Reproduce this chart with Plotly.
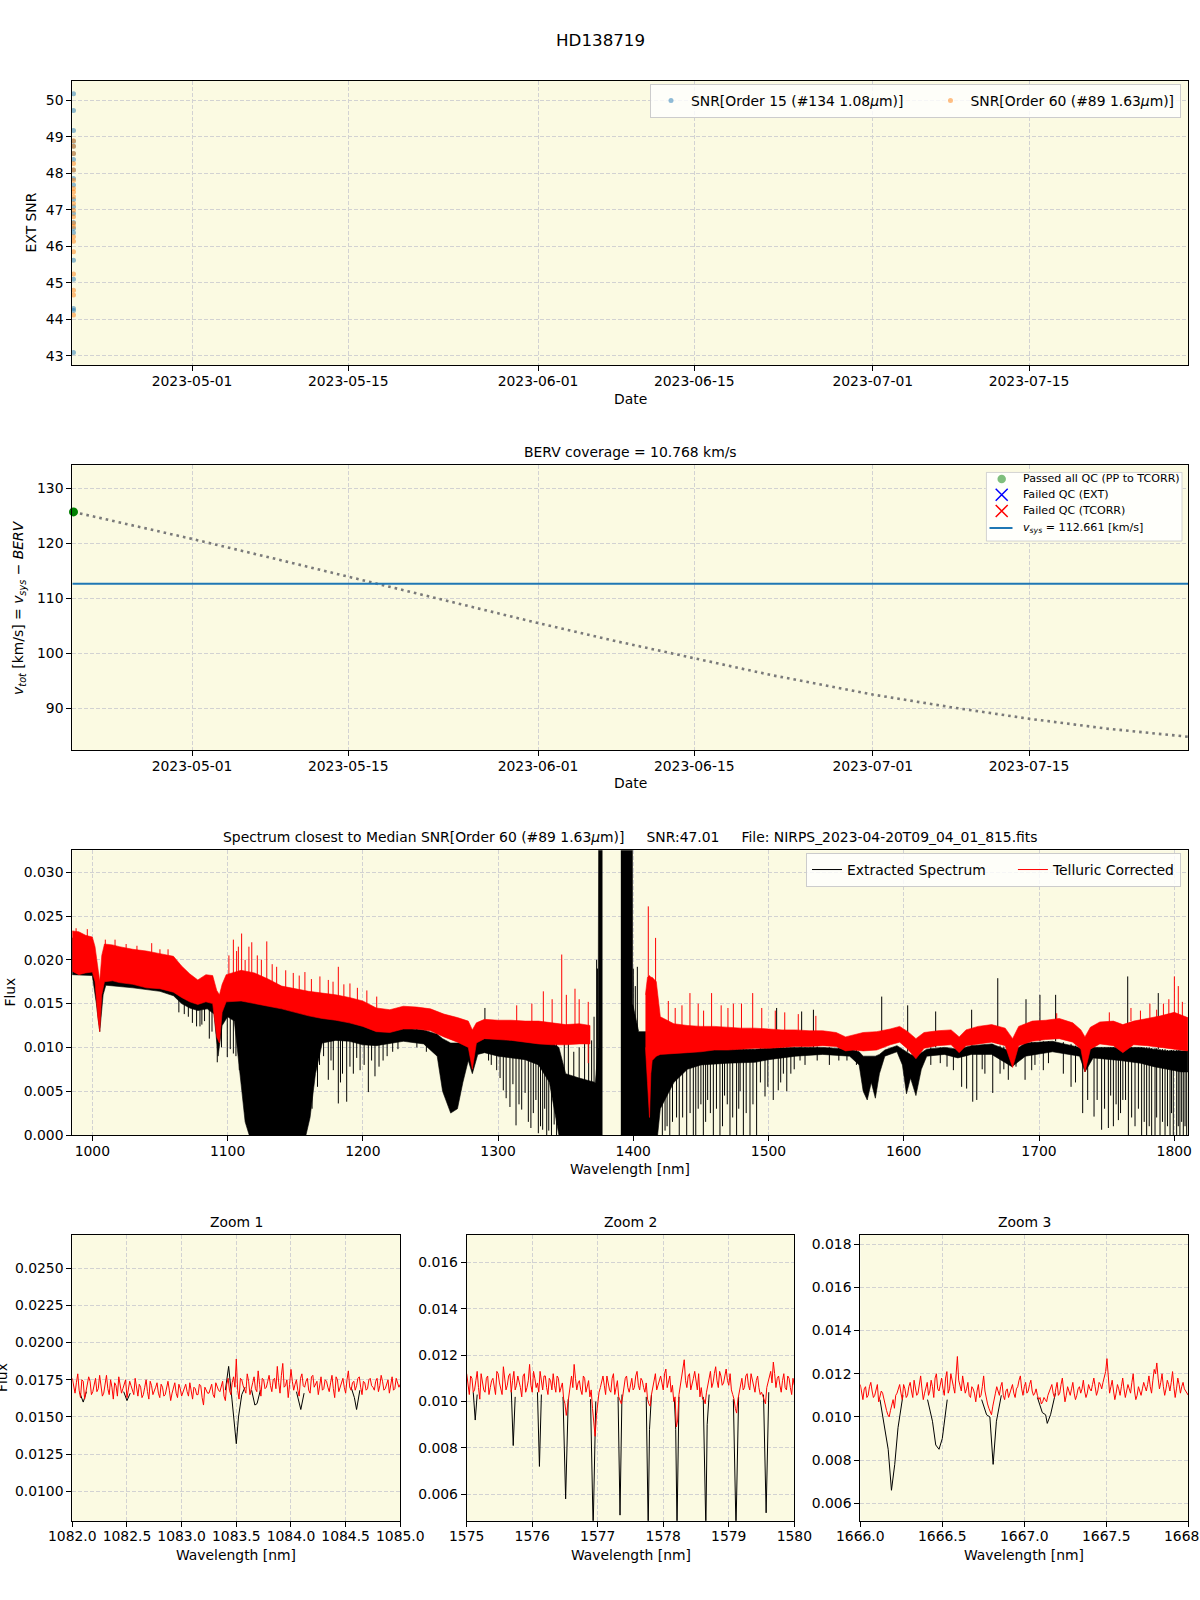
import plotly.graph_objects as go

W, H = 1200, 1600
FONT = "DejaVu Sans"
BG = "#FBFAE2"
GRID = "#d2d2d2"

# ---------------- Panel 1 : SNR ----------------
snr_o15 = [50.18, 49.72, 49.17, 48.88, 48.74, 48.54, 48.38, 48.09, 47.86, 47.68, 47.28,
           47.08, 46.90, 46.65, 46.49, 46.37, 45.62, 45.10, 44.30, 44.24, 43.09]
snr_o60 = [48.89, 48.74, 48.54, 48.27, 48.09, 47.81, 47.58, 47.49, 47.36, 47.17, 46.99,
           46.81, 46.63, 46.54, 46.26, 46.14, 45.85, 45.24, 44.80, 44.67, 44.12]
obs_date = "2023-04-20 09:04:01"
date_range = ["2023-04-20 06:30", "2023-07-29 06:30"]
date_ticks = ["2023-05-01", "2023-05-15", "2023-06-01", "2023-06-15", "2023-07-01", "2023-07-15"]

# ---------------- Panel 2 : BERV ----------------
berv_dates = ["2023-04-20 09:04", "2023-05-01", "2023-05-08", "2023-05-15", "2023-05-22",
              "2023-06-01", "2023-06-08", "2023-06-15", "2023-06-22", "2023-07-01",
              "2023-07-08", "2023-07-15", "2023-07-22", "2023-07-29 09:04"]
berv_vtot = [125.7, 120.8, 117.4, 113.9, 110.4, 105.5, 102.2, 99.1, 96.0, 92.5,
             90.2, 88.1, 86.3, 84.8]
passed_vtot = [125.7]
vsys = 112.661
berv_legend = ["Passed all QC (PP to TCORR)", "Failed QC (EXT)", "Failed QC (TCORR)",
               "<i>v<sub>sys</sub></i> = 112.661 [km/s]"]

# ---------------- Panel 3 : spectrum (envelopes) ----------------
# (wavelength, upper, lower) ; None row = gap
tc_band = [
    (985, 0.0233, 0.0187), (990, 0.0232, 0.0183), (995, 0.0228, 0.0185), (1000, 0.0226, 0.0186),
    (1002, 0.0215, 0.0175), (1004, 0.0195, 0.0135), (1005.5, 0.0175, 0.0118), (1007, 0.0205, 0.0160),
    (1009, 0.0218, 0.0175), (1015, 0.0217, 0.0176), (1020, 0.0215, 0.0174), (1030, 0.0212, 0.0172),
    (1040, 0.0210, 0.0168), (1050, 0.0207, 0.0167), (1060, 0.0204, 0.0163), (1066, 0.0193, 0.0157),
    (1072, 0.0184, 0.0152), (1078, 0.0177, 0.0149), (1084, 0.0183, 0.0152), (1089, 0.0182, 0.0150),
    (1092, 0.0165, 0.0112), (1094, 0.0160, 0.0105), (1096, 0.0172, 0.0140), (1099, 0.0183, 0.0152),
    (1110, 0.0188, 0.0153), (1120, 0.0185, 0.0150), (1130, 0.0178, 0.0147), (1140, 0.0170, 0.0144),
    (1150, 0.0167, 0.0140), (1160, 0.0164, 0.0136), (1170, 0.0162, 0.0133), (1180, 0.0160, 0.0131),
    (1190, 0.0157, 0.0128), (1200, 0.0153, 0.0124), (1210, 0.0145, 0.0118), (1220, 0.0143, 0.0117),
    (1230, 0.0147, 0.0121), (1240, 0.0146, 0.0121), (1250, 0.0144, 0.0119), (1260, 0.0138, 0.0112),
    (1270, 0.0134, 0.0106), (1278, 0.0130, 0.0100), (1281, 0.0120, 0.0075), (1284, 0.0128, 0.0105),
    (1290, 0.0132, 0.0110), (1300, 0.0131, 0.0109), (1310, 0.0131, 0.0108), (1320, 0.0130, 0.0106),
    (1330, 0.0130, 0.0104), (1340, 0.0128, 0.0103), (1350, 0.0126, 0.0103), (1360, 0.0127, 0.0104),
    (1368, 0.0125, 0.0104),
    None,
    (1409, 0.0160, 0.0100), (1410.5, 0.0180, 0.0060), (1412, 0.0182, 0.0020), (1413, 0.0180, 0.0070),
    (1414, 0.0180, 0.0085), (1417, 0.0175, 0.0090), (1420, 0.0135, 0.0092), (1430, 0.0127, 0.0093),
    (1440, 0.0125, 0.0094), (1450, 0.0124, 0.0095), (1460, 0.0124, 0.0097), (1470, 0.0123, 0.0097),
    (1480, 0.0122, 0.0098), (1490, 0.0122, 0.0099), (1500, 0.0121, 0.0099), (1510, 0.0120, 0.0100),
    (1520, 0.0120, 0.0101), (1530, 0.0119, 0.0101), (1540, 0.0119, 0.0102), (1550, 0.0117, 0.0101),
    (1557, 0.0112, 0.0096), (1563, 0.0114, 0.0097), (1570, 0.0117, 0.0096), (1580, 0.0118, 0.0097),
    (1590, 0.0121, 0.0103), (1597, 0.0124, 0.0106), (1603, 0.0118, 0.0098), (1609, 0.0110, 0.0087),
    (1615, 0.0117, 0.0099), (1625, 0.0119, 0.0102), (1635, 0.0120, 0.0103), (1641, 0.0112, 0.0094),
    (1646, 0.0120, 0.0102), (1655, 0.0124, 0.0104), (1665, 0.0126, 0.0106), (1675, 0.0122, 0.0102),
    (1680.5, 0.0110, 0.0077), (1685, 0.0124, 0.0102), (1695, 0.0130, 0.0107), (1705, 0.0131, 0.0109),
    (1715, 0.0133, 0.0110), (1725, 0.0128, 0.0106), (1731, 0.0120, 0.0098), (1734, 0.0112, 0.0072),
    (1738, 0.0123, 0.0098), (1745, 0.0129, 0.0104), (1755, 0.0130, 0.0102), (1762, 0.0126, 0.0094),
    (1770, 0.0130, 0.0103), (1780, 0.0133, 0.0102), (1790, 0.0136, 0.0100), (1800, 0.0140, 0.0098),
    (1810, 0.0134, 0.0096),
]

ext_band = [
    (985, 0.0225, 0.0183), (1000, 0.0222, 0.0182), (1003, 0.0195, 0.0150), (1005.5, 0.0170, 0.0118),
    (1008, 0.0200, 0.0160), (1010, 0.0212, 0.0171), (1030, 0.0208, 0.0168), (1050, 0.0203, 0.0164),
    (1060, 0.0198, 0.0159), (1066, 0.0188, 0.0150), (1072, 0.0178, 0.0145), (1078, 0.0172, 0.0142),
    (1085, 0.0175, 0.0144), (1090, 0.0170, 0.0138), (1093, 0.0150, 0.0090), (1096, 0.0160, 0.0125),
    (1100, 0.0170, 0.0135), (1105, 0.0165, 0.0130), (1110, 0.0160, 0.0060), (1113, 0.0158, 0.0015),
    (1116, 0.0155, 0.0), (1130, 0.0150, 0.0), (1145, 0.0143, 0.0), (1158, 0.0140, 0.0),
    (1161, 0.0138, 0.0020), (1165, 0.0135, 0.0070), (1170, 0.0135, 0.0105), (1180, 0.0133, 0.0108),
    (1190, 0.0130, 0.0107), (1200, 0.0125, 0.0103), (1210, 0.0120, 0.0102), (1230, 0.0122, 0.0107),
    (1245, 0.0120, 0.0104), (1255, 0.0115, 0.0090), (1259, 0.0110, 0.0050), (1265, 0.0105, 0.0025),
    (1270, 0.0105, 0.0030), (1274, 0.0105, 0.0060), (1278, 0.0108, 0.0085), (1281, 0.0100, 0.0070),
    (1285, 0.0108, 0.0092), (1290, 0.0110, 0.0094), (1300, 0.0110, 0.0090), (1310, 0.0110, 0.0088),
    (1320, 0.0108, 0.0086), (1330, 0.0107, 0.0080), (1338, 0.0107, 0.0060), (1345, 0.0100, 0.0),
    (1350, 0.0070, 0.0), (1360, 0.0065, 0.0), (1372, 0.0060, 0.0), (1374, 0.0100, 0.0),
    (1374.5, 0.0400, 0.0), (1377, 0.0400, 0.0),
    None,
    (1390.8, 0.0400, 0.0), (1399.3, 0.0400, 0.0), (1399.5, 0.0150, 0.0), (1404, 0.0118, 0.0),
    (1410, 0.0118, 0.0), (1418, 0.0110, 0.0), (1420, 0.0095, 0.0030), (1430, 0.0095, 0.0060),
    (1440, 0.0096, 0.0075), (1450, 0.0097, 0.0080), (1470, 0.0098, 0.0082), (1490, 0.0098, 0.0083),
    (1500, 0.0099, 0.0086), (1520, 0.0100, 0.0090), (1540, 0.0100, 0.0092), (1560, 0.0098, 0.0090),
    (1567, 0.0095, 0.0080), (1570, 0.0090, 0.0050), (1573, 0.0090, 0.0040), (1576, 0.0090, 0.0060),
    (1579, 0.0090, 0.0042), (1582, 0.0092, 0.0070), (1586, 0.0097, 0.0090), (1595, 0.0102, 0.0095),
    (1599, 0.0098, 0.0080), (1602, 0.0095, 0.0047), (1605, 0.0092, 0.0065), (1609, 0.0090, 0.0045),
    (1613, 0.0094, 0.0075), (1617, 0.0098, 0.0090), (1630, 0.0100, 0.0092), (1640, 0.0098, 0.0088),
    (1650, 0.0102, 0.0092), (1665, 0.0104, 0.0092), (1680, 0.0095, 0.0078), (1690, 0.0105, 0.0090),
    (1710, 0.0107, 0.0095), (1730, 0.0100, 0.0090), (1734, 0.0095, 0.0072), (1740, 0.0100, 0.0088),
    (1760, 0.0100, 0.0085), (1775, 0.0100, 0.0082), (1785, 0.0098, 0.0078), (1795, 0.0096, 0.0075),
    (1805, 0.0096, 0.0072), (1810, 0.0096, 0.0072),
]

# individual lines / spikes : (wavelength, top, bottom)
ext_spikes = [
    (1064.0, 0.0175, 0.0140), (1068.0, 0.0172, 0.0138), (1071.0, 0.0170, 0.0135), (1074.0, 0.0170, 0.0128),
    (1077.1, 0.0170, 0.0124), (1079.6, 0.0170, 0.0124), (1081.0, 0.0172, 0.0126), (1083.0, 0.0172, 0.0130),
    (1086.5, 0.0172, 0.0110), (1088.5, 0.0170, 0.0118), (1092.4, 0.0160, 0.0083), (1095.5, 0.0160, 0.0100),
    (1099.8, 0.0165, 0.0089), (1102.0, 0.0165, 0.0098), (1104.3, 0.0165, 0.0093), (1106.2, 0.0163, 0.0090),
    (1108.7, 0.0160, 0.0074),
    (1162.5, 0.0135, 0.0030), (1166.5, 0.0135, 0.0055), (1168.0, 0.0134, 0.0080), (1171.0, 0.0134, 0.0090),
    (1174.5, 0.0133, 0.0063), (1176.5, 0.0133, 0.0085), (1178.2, 0.0133, 0.0074), (1181.9, 0.0133, 0.0036),
    (1183.5, 0.0132, 0.0060), (1185.0, 0.0130, 0.0070), (1188.1, 0.0130, 0.0038), (1190.5, 0.0129, 0.0078),
    (1193.0, 0.0128, 0.0070), (1195.5, 0.0127, 0.0088), (1198.0, 0.0126, 0.0074), (1201.0, 0.0124, 0.0080),
    (1204.1, 0.0122, 0.0049), (1206.5, 0.0121, 0.0085), (1209.0, 0.0120, 0.0067), (1212.0, 0.0120, 0.0078),
    (1215.0, 0.0120, 0.0085), (1218.0, 0.0120, 0.0090), (1222.1, 0.0120, 0.0095), (1226.0, 0.0121, 0.0098),
    (1232.4, 0.0122, 0.0108), (1240.0, 0.0121, 0.0100), (1247.0, 0.0119, 0.0095), (1254.6, 0.0116, 0.0097),
    (1290.3, 0.0145, 0.0110), (1293.0, 0.0110, 0.0085), (1295.0, 0.0110, 0.0080), (1299.0, 0.0110, 0.0074),
    (1301.5, 0.0110, 0.0065), (1303.9, 0.0110, 0.0051), (1306.0, 0.0110, 0.0042), (1308.8, 0.0110, 0.0032),
    (1311.0, 0.0110, 0.0058), (1313.3, 0.0110, 0.0011), (1315.5, 0.0110, 0.0035), (1317.5, 0.0110, 0.0029),
    (1320.0, 0.0109, 0.0048), (1322.4, 0.0108, 0.0015), (1324.3, 0.0108, 0.0008), (1326.1, 0.0108, 0.0025),
    (1328.0, 0.0108, 0.0040), (1329.8, 0.0107, 0.0002), (1331.4, 0.0107, 0.0010), (1333.0, 0.0107, 0.0006),
    (1334.5, 0.0107, 0.0030), (1336.0, 0.0107, 0.0), (1337.5, 0.0107, 0.0005), (1339.5, 0.0106, 0.0),
    (1341.5, 0.0106, 0.0012), (1343.3, 0.0105, 0.0),
    (1349.0, 0.0105, 0.0060), (1352.0, 0.0110, 0.0060), (1356.0, 0.0095, 0.0060), (1360.0, 0.0100, 0.0060),
    (1364.0, 0.0110, 0.0060), (1367.0, 0.0105, 0.0060), (1369.2, 0.0108, 0.0060), (1371.0, 0.0135, 0.0060),
    (1372.9, 0.0200, 0.0060), (1373.6, 0.0190, 0.0060),
    (1400.0, 0.0190, 0.0100), (1401.5, 0.0170, 0.0100), (1403.0, 0.0192, 0.0100),
    (1421.5, 0.0095, 0.0), (1423.5, 0.0095, 0.0005), (1425.0, 0.0095, 0.0010), (1427.0, 0.0095, 0.0),
    (1429.0, 0.0095, 0.0015), (1432.0, 0.0095, 0.0020), (1434.0, 0.0095, 0.0), (1436.5, 0.0096, 0.0020),
    (1439.5, 0.0096, 0.0), (1442.0, 0.0096, 0.0025), (1444.4, 0.0096, 0.0), (1446.2, 0.0096, 0.0),
    (1448.0, 0.0096, 0.0030), (1450.0, 0.0097, 0.0035), (1451.8, 0.0097, 0.0), (1453.5, 0.0097, 0.0015),
    (1455.0, 0.0097, 0.0040), (1457.0, 0.0097, 0.0025), (1459.2, 0.0097, 0.0), (1461.5, 0.0097, 0.0030),
    (1464.1, 0.0097, 0.0), (1466.0, 0.0098, 0.0010), (1467.5, 0.0098, 0.0045), (1469.5, 0.0098, 0.0035),
    (1471.5, 0.0098, 0.0), (1473.5, 0.0098, 0.0020), (1476.4, 0.0098, 0.0), (1478.0, 0.0098, 0.0030),
    (1479.0, 0.0098, 0.0050), (1481.4, 0.0098, 0.0), (1483.5, 0.0098, 0.0025), (1486.3, 0.0098, 0.0),
    (1488.5, 0.0098, 0.0035), (1491.2, 0.0098, 0.0), (1494.0, 0.0099, 0.0060), (1497.4, 0.0099, 0.0044),
    (1499.5, 0.0099, 0.0055), (1503.5, 0.0100, 0.0040), (1506.0, 0.0145, 0.0100), (1507.2, 0.0100, 0.0051),
    (1509.0, 0.0100, 0.0060), (1511.0, 0.0100, 0.0070), (1513.5, 0.0100, 0.0050), (1516.5, 0.0100, 0.0070),
    (1519.0, 0.0100, 0.0075), (1523.3, 0.0100, 0.0085), (1524.5, 0.0141, 0.0100), (1527.0, 0.0100, 0.0080),
    (1530.7, 0.0100, 0.0093), (1533.2, 0.0143, 0.0100), (1536.0, 0.0101, 0.0085), (1545.0, 0.0100, 0.0080),
    (1552.0, 0.0100, 0.0085), (1558.0, 0.0098, 0.0085), (1565.0, 0.0097, 0.0080),
    (1583.7, 0.0158, 0.0100), (1602.9, 0.0148, 0.0095), (1620.0, 0.0100, 0.0080), (1623.6, 0.0141, 0.0100),
    (1627.0, 0.0100, 0.0082), (1632.0, 0.0100, 0.0078), (1636.7, 0.0098, 0.0074), (1642.8, 0.0095, 0.0055),
    (1646.5, 0.0100, 0.0053), (1650.2, 0.0143, 0.0102), (1651.0, 0.0102, 0.0038), (1654.0, 0.0102, 0.0040),
    (1658.0, 0.0102, 0.0075), (1660.0, 0.0103, 0.0070), (1665.8, 0.0104, 0.0048), (1669.5, 0.0179, 0.0104),
    (1671.2, 0.0102, 0.0070), (1674.0, 0.0101, 0.0075), (1677.3, 0.0100, 0.0063), (1683.0, 0.0100, 0.0078),
    (1689.7, 0.0105, 0.0063), (1690.4, 0.0155, 0.0105), (1694.6, 0.0106, 0.0074), (1697.0, 0.0106, 0.0080),
    (1700.7, 0.0160, 0.0107), (1703.2, 0.0107, 0.0074), (1707.0, 0.0107, 0.0082), (1712.3, 0.0160, 0.0107),
    (1718.0, 0.0106, 0.0070), (1723.7, 0.0104, 0.0055), (1727.0, 0.0102, 0.0060), (1732.3, 0.0100, 0.0025),
    (1736.0, 0.0098, 0.0040), (1740.7, 0.0100, 0.0021), (1743.0, 0.0100, 0.0040), (1746.3, 0.0100, 0.0006),
    (1748.5, 0.0100, 0.0030), (1751.3, 0.0100, 0.0008), (1753.0, 0.0100, 0.0045), (1755.0, 0.0100, 0.0010),
    (1757.0, 0.0100, 0.0035), (1758.7, 0.0099, 0.0017), (1760.3, 0.0099, 0.0025), (1762.0, 0.0095, 0.0040),
    (1764.0, 0.0099, 0.0040), (1765.6, 0.0181, 0.0100), (1766.1, 0.0100, 0.0), (1768.5, 0.0100, 0.0020),
    (1771.0, 0.0100, 0.0010), (1773.5, 0.0100, 0.0030), (1775.9, 0.0100, 0.0), (1777.8, 0.0100, 0.0015),
    (1779.6, 0.0100, 0.0), (1781.5, 0.0100, 0.0010), (1783.3, 0.0099, 0.0), (1785.8, 0.0099, 0.0),
    (1787.0, 0.0099, 0.0020), (1788.2, 0.0162, 0.0098), (1789.5, 0.0098, 0.0), (1791.3, 0.0098, 0.0015),
    (1793.2, 0.0098, 0.0), (1795.0, 0.0097, 0.0010), (1796.9, 0.0097, 0.0), (1798.0, 0.0097, 0.0025),
    (1799.3, 0.0097, 0.0), (1801.8, 0.0097, 0.0), (1803.0, 0.0097, 0.0010), (1804.2, 0.0097, 0.0),
    (1805.5, 0.0096, 0.0015), (1806.7, 0.0096, 0.0), (1808.0, 0.0096, 0.0010), (1809.2, 0.0096, 0.0),
]

tc_spikes = [
    (988.0, 0.0236, 0.0228), (996.3, 0.0235, 0.0225), (1009.6, 0.0223, 0.0210), (1016.8, 0.0223, 0.0210),
    (1025.0, 0.0218, 0.0210), (1033.0, 0.0216, 0.0208), (1043.9, 0.0219, 0.0205), (1050.0, 0.0212, 0.0200),
    (1056.0, 0.0212, 0.0202),
    (1101.0, 0.0205, 0.0180), (1104.3, 0.0223, 0.0180), (1106.7, 0.0210, 0.0180), (1108.0, 0.0215, 0.0180),
    (1110.4, 0.0230, 0.0180), (1113.0, 0.0200, 0.0180), (1115.8, 0.0215, 0.0180), (1117.9, 0.0220, 0.0180),
    (1122.0, 0.0205, 0.0180), (1125.0, 0.0200, 0.0178), (1129.0, 0.0221, 0.0175), (1133.0, 0.0195, 0.0172),
    (1136.3, 0.0192, 0.0168), (1143.0, 0.0188, 0.0166), (1148.6, 0.0185, 0.0165), (1153.0, 0.0182, 0.0163),
    (1157.2, 0.0186, 0.0162), (1162.0, 0.0178, 0.0160), (1168.3, 0.0181, 0.0160), (1174.5, 0.0177, 0.0158),
    (1178.0, 0.0175, 0.0158), (1181.9, 0.0192, 0.0158), (1186.0, 0.0172, 0.0155), (1190.5, 0.0173, 0.0155),
    (1196.0, 0.0168, 0.0150), (1203.0, 0.0165, 0.0148), (1210.3, 0.0158, 0.0143),
    (1313.8, 0.0148, 0.0128), (1325.0, 0.0150, 0.0128), (1333.5, 0.0164, 0.0128), (1340.0, 0.0155, 0.0126),
    (1347.1, 0.0206, 0.0126), (1350.5, 0.0160, 0.0124), (1356.9, 0.0167, 0.0124), (1360.0, 0.0155, 0.0124),
    (1366.7, 0.0152, 0.0082), (1411.1, 0.0261, 0.0180), (1416.5, 0.0225, 0.0170), (1425.9, 0.0153, 0.0125),
    (1431.0, 0.0145, 0.0125), (1436.0, 0.0148, 0.0124), (1441.9, 0.0162, 0.0124), (1448.0, 0.0150, 0.0123),
    (1452.0, 0.0142, 0.0123), (1457.9, 0.0162, 0.0123), (1465.0, 0.0148, 0.0122), (1470.0, 0.0145, 0.0122),
    (1474.0, 0.0150, 0.0122), (1480.0, 0.0150, 0.0121), (1488.3, 0.0162, 0.0121), (1495.0, 0.0145, 0.0120),
    (1505.0, 0.0142, 0.0120), (1512.0, 0.0140, 0.0119), (1522.0, 0.0138, 0.0119), (1535.0, 0.0136, 0.0118),
    (1713.1, 0.0139, 0.0130), (1752.0, 0.0140, 0.0128), (1768.0, 0.0145, 0.0130), (1775.0, 0.0142, 0.0130),
    (1782.0, 0.0150, 0.0130), (1787.0, 0.0143, 0.0134), (1792.0, 0.0150, 0.0133), (1796.0, 0.0155, 0.0135),
    (1800.1, 0.0181, 0.0138), (1803.0, 0.0170, 0.0138), (1806.0, 0.0152, 0.0132),
]

# ---------------- Zoom panels ----------------
# telluric-corrected flux sampled on a regular grid (values on the grid points, then on the half-steps)
z1_start, z1_step = 1082.0, 0.025
z1_tc = [0.0176,
         0.0166, 0.0179, 0.0163, 0.0174, 0.0168, 0.0177, 0.0165, 0.0172, 0.0167,
         0.0178, 0.0164, 0.0173, 0.0169, 0.0175, 0.0162, 0.0171, 0.0177, 0.0166, 0.0172,
         0.0163, 0.0174, 0.0167, 0.0176, 0.0164, 0.0170, 0.0165, 0.0175, 0.0162, 0.0171,
         0.0167, 0.0173, 0.0163, 0.0170, 0.0165, 0.0174, 0.0161, 0.0169, 0.0166, 0.0172,
         0.0164, 0.0170, 0.0167, 0.0173, 0.0162, 0.0169, 0.0165, 0.0171, 0.0158, 0.0168,
         0.0166, 0.0172, 0.0163, 0.0170, 0.0167, 0.0174, 0.0161, 0.0176, 0.0165, 0.0177,
         0.0189, 0.0162, 0.0175, 0.0168, 0.0179, 0.0165, 0.0173, 0.0169, 0.0181, 0.0164,
         0.0175, 0.0170, 0.0178, 0.0167, 0.0176, 0.0184, 0.0166, 0.0186, 0.0171, 0.0163,
         0.0182, 0.0168, 0.0175, 0.0164, 0.0179, 0.0170, 0.0176, 0.0166, 0.0178, 0.0172,
         0.0165, 0.0177, 0.0169, 0.0174, 0.0167, 0.0178, 0.0163, 0.0175, 0.0170, 0.0176,
         0.0166, 0.0181, 0.0168, 0.0174, 0.0171, 0.0177, 0.0165, 0.0173, 0.0169, 0.0176,
         0.0170, 0.0174, 0.0167, 0.0178, 0.0168, 0.0172, 0.0166, 0.0177, 0.0169, 0.0173, 0.0172]
z1_tc_half = [0.0170, 0.0173, 0.0168, 0.0175, 0.0162, 0.0171, 0.0174, 0.0167, 0.0176, 0.0169,
              0.0172, 0.0166, 0.0178, 0.0165, 0.0170, 0.0173, 0.0164, 0.0172, 0.0169, 0.0175,
              0.0168, 0.0171, 0.0165, 0.0169, 0.0172, 0.0163, 0.0170, 0.0167, 0.0174, 0.0165,
              0.0170, 0.0166, 0.0172, 0.0164, 0.0171, 0.0168, 0.0166, 0.0173, 0.0163, 0.0169,
              0.0167, 0.0172, 0.0164, 0.0168, 0.0170, 0.0165, 0.0172, 0.0163, 0.0170, 0.0166,
              0.0169, 0.0165, 0.0173, 0.0168, 0.0171, 0.0164, 0.0172, 0.0168, 0.0173, 0.0170,
              0.0168, 0.0176, 0.0171, 0.0166, 0.0174, 0.0170, 0.0177, 0.0167, 0.0172, 0.0176,
              0.0169, 0.0174, 0.0171, 0.0175, 0.0169, 0.0173, 0.0178, 0.0170, 0.0175, 0.0172,
              0.0174, 0.0172, 0.0168, 0.0176, 0.0171, 0.0174, 0.0168, 0.0177, 0.0170, 0.0174,
              0.0171, 0.0168, 0.0175, 0.0170, 0.0173, 0.0169, 0.0177, 0.0167, 0.0173, 0.0170,
              0.0175, 0.0170, 0.0173, 0.0168, 0.0176, 0.0170, 0.0174, 0.0168, 0.0175, 0.0171,
              0.0168, 0.0176, 0.0171, 0.0174, 0.0169, 0.0175, 0.0171, 0.0168, 0.0176, 0.0170]
z1_ext_wl = [1082.07, 1082.10, 1082.13, None,
             1082.47, 1082.50, 1082.53, None,
             1083.40, 1083.43, 1083.46, 1083.48, 1083.50, 1083.52, 1083.55, 1083.58, None,
             1083.64, 1083.67, 1083.69, 1083.72, None,
             1084.05, 1084.09, 1084.12, None,
             1084.55, 1084.58, 1084.60, 1084.63]
z1_ext = [0.0166, 0.0160, 0.0167, None,
          0.0167, 0.0161, 0.0166, None,
          0.0168, 0.0184, 0.0162, 0.0148, 0.0132, 0.0150, 0.0165, 0.0170, None,
          0.0168, 0.0158, 0.0159, 0.0168, None,
          0.0167, 0.0155, 0.0166, None,
          0.0170, 0.0163, 0.0155, 0.0168]

z2_start, z2_step = 1575.0, 0.04
z2_tc = [0.0112, 0.0103, 0.0110, 0.0105, 0.0113, 0.0101, 0.0109, 0.0104, 0.0111, 0.0106,
         0.0110, 0.0103, 0.0112, 0.0106, 0.0115, 0.0105, 0.0111, 0.0104, 0.0113, 0.0107,
         0.0109, 0.0102, 0.0112, 0.0106, 0.0116, 0.0104, 0.0110, 0.0108, 0.0113, 0.0105,
         0.0111, 0.0103, 0.0109, 0.0112, 0.0104, 0.0110, 0.0106, 0.0101, 0.0094, 0.0104,
         0.0111, 0.0116, 0.0105, 0.0109, 0.0103, 0.0110, 0.0106, 0.0102, 0.0097, 0.0085,
         0.0100, 0.0106, 0.0111, 0.0103, 0.0108, 0.0104, 0.0112, 0.0106, 0.0102, 0.0099,
         0.0107, 0.0111, 0.0104, 0.0110, 0.0106, 0.0113, 0.0105, 0.0109, 0.0104, 0.0101,
         0.0098, 0.0106, 0.0112, 0.0107, 0.0111, 0.0105, 0.0114, 0.0108, 0.0104, 0.0100,
         0.0089, 0.0103, 0.0110, 0.0118, 0.0106, 0.0112, 0.0107, 0.0113, 0.0105, 0.0102,
         0.0101, 0.0099, 0.0107, 0.0113, 0.0108, 0.0115, 0.0106, 0.0111, 0.0108, 0.0114,
         0.0107, 0.0105, 0.0101, 0.0095, 0.0104, 0.0110, 0.0106, 0.0112, 0.0105, 0.0109,
         0.0104, 0.0111, 0.0103, 0.0102, 0.0099, 0.0108, 0.0113, 0.0117, 0.0106, 0.0111,
         0.0104, 0.0112, 0.0105, 0.0110, 0.0103, 0.0107]
z2_tc_half = [0.0107, 0.0111, 0.0104, 0.0109, 0.0106, 0.0112, 0.0105, 0.0110, 0.0103, 0.0109,
              0.0106, 0.0113, 0.0108, 0.0103, 0.0110, 0.0107, 0.0112, 0.0109, 0.0105, 0.0111,
              0.0106, 0.0111, 0.0104, 0.0109, 0.0107, 0.0113, 0.0106, 0.0104, 0.0109, 0.0111,
              0.0106, 0.0110, 0.0105, 0.0107, 0.0111, 0.0104, 0.0108, 0.0099, 0.0098, 0.0107,
              0.0106, 0.0110, 0.0108, 0.0105, 0.0111, 0.0104, 0.0109, 0.0105, 0.0090, 0.0094,
              0.0104, 0.0109, 0.0107, 0.0111, 0.0105, 0.0110, 0.0103, 0.0109, 0.0100, 0.0102,
              0.0110, 0.0106, 0.0108, 0.0105, 0.0111, 0.0107, 0.0110, 0.0106, 0.0108, 0.0099,
              0.0103, 0.0109, 0.0105, 0.0110, 0.0108, 0.0112, 0.0106, 0.0111, 0.0107, 0.0102,
              0.0092, 0.0107, 0.0113, 0.0109, 0.0111, 0.0105, 0.0110, 0.0108, 0.0112, 0.0106,
              0.0101, 0.0104, 0.0110, 0.0106, 0.0112, 0.0109, 0.0113, 0.0107, 0.0111, 0.0109,
              0.0112, 0.0103, 0.0097, 0.0101, 0.0108, 0.0105, 0.0111, 0.0107, 0.0112, 0.0106,
              0.0109, 0.0106, 0.0104, 0.0101, 0.0106, 0.0110, 0.0108, 0.0112, 0.0110, 0.0107,
              0.0109, 0.0106, 0.0111, 0.0106, 0.0110]
z2_ext_wl = [1575.10, 1575.13, 1575.16, None, 1575.68, 1575.71, 1575.74, None,
             1576.08, 1576.11, 1576.14, None, 1576.47, 1576.51, 1576.55, None,
             1576.89, 1576.93, 1576.97, None, 1577.31, 1577.34, 1577.37, None,
             1577.74, 1577.77, 1577.79, 1577.82, None, 1578.17, 1578.19, 1578.21, 1578.24, None,
             1578.61, 1578.65, 1578.67, 1578.70, None, 1579.07, 1579.11, 1579.15, None,
             1579.53, 1579.57, 1579.61]
z2_ext = [0.0104, 0.0092, 0.0103, None, 0.0105, 0.0081, 0.0102, None,
          0.0104, 0.0072, 0.0103, None, 0.0102, 0.0058, 0.0101, None,
          0.0101, 0.0045, 0.0100, None, 0.0102, 0.0051, 0.0103, None,
          0.0102, 0.0045, 0.0088, 0.0103, None, 0.0101, 0.0088, 0.0045, 0.0102, None,
          0.0102, 0.0045, 0.0090, 0.0103, None, 0.0101, 0.0045, 0.0102, None,
          0.0103, 0.0052, 0.0104]

z3_start, z3_step = 1666.0, 0.016
z3_tc = [0.0115, 0.0108, 0.0114, 0.0110, 0.0116, 0.0109, 0.0113, 0.0107, 0.0112, 0.0108,
         0.0103, 0.0100, 0.0106, 0.0104, 0.0111, 0.0115, 0.0108, 0.0113, 0.0110, 0.0116,
         0.0109, 0.0114, 0.0111, 0.0119, 0.0108, 0.0113, 0.0110, 0.0117, 0.0109, 0.0120,
         0.0112, 0.0118, 0.0110, 0.0121, 0.0113, 0.0116, 0.0111, 0.0128, 0.0114, 0.0119,
         0.0111, 0.0116, 0.0109, 0.0113, 0.0107, 0.0115, 0.0110, 0.0119, 0.0108, 0.0104,
         0.0101, 0.0109, 0.0114, 0.0110, 0.0116, 0.0108, 0.0113, 0.0111, 0.0115, 0.0109,
         0.0114, 0.0119, 0.0110, 0.0116, 0.0112, 0.0117, 0.0110, 0.0113, 0.0108, 0.0106,
         0.0109, 0.0107, 0.0112, 0.0115, 0.0109, 0.0116, 0.0111, 0.0118, 0.0107, 0.0114,
         0.0110, 0.0116, 0.0108, 0.0113, 0.0111, 0.0117, 0.0109, 0.0115, 0.0112, 0.0118,
         0.0110, 0.0116, 0.0113, 0.0119, 0.0127, 0.0111, 0.0117, 0.0108, 0.0115, 0.0110,
         0.0118, 0.0109, 0.0115, 0.0111, 0.0120, 0.0108, 0.0114, 0.0110, 0.0116, 0.0112,
         0.0119, 0.0111, 0.0122, 0.0125, 0.0113, 0.0120, 0.0110, 0.0117, 0.0112, 0.0121,
         0.0109, 0.0118, 0.0111, 0.0116, 0.0112, 0.0110]
z3_tc_half = [0.0111, 0.0113, 0.0109, 0.0114, 0.0112, 0.0110, 0.0115, 0.0109, 0.0111, 0.0106,
              0.0101, 0.0103, 0.0108, 0.0110, 0.0113, 0.0111, 0.0115, 0.0109, 0.0114, 0.0112,
              0.0117, 0.0110, 0.0115, 0.0113, 0.0111, 0.0116, 0.0112, 0.0114, 0.0118, 0.0113,
              0.0116, 0.0113, 0.0118, 0.0111, 0.0120, 0.0114, 0.0122, 0.0117, 0.0112, 0.0115,
              0.0113, 0.0110, 0.0114, 0.0111, 0.0112, 0.0109, 0.0114, 0.0112, 0.0106, 0.0102,
              0.0105, 0.0111, 0.0112, 0.0114, 0.0110, 0.0112, 0.0109, 0.0114, 0.0111, 0.0113,
              0.0117, 0.0113, 0.0114, 0.0111, 0.0115, 0.0112, 0.0111, 0.0110, 0.0109, 0.0107,
              0.0108, 0.0110, 0.0113, 0.0111, 0.0113, 0.0110, 0.0115, 0.0112, 0.0110, 0.0112,
              0.0113, 0.0111, 0.0110, 0.0114, 0.0113, 0.0112, 0.0111, 0.0113, 0.0115, 0.0114,
              0.0112, 0.0115, 0.0116, 0.0121, 0.0118, 0.0114, 0.0112, 0.0111, 0.0113, 0.0114,
              0.0113, 0.0112, 0.0113, 0.0116, 0.0112, 0.0110, 0.0112, 0.0113, 0.0114, 0.0115,
              0.0114, 0.0117, 0.0120, 0.0118, 0.0116, 0.0114, 0.0113, 0.0115, 0.0116, 0.0114,
              0.0113, 0.0115, 0.0114, 0.0113, 0.0111]
z3_ext_wl = [1666.12, 1666.15, 1666.17, 1666.19, 1666.21, 1666.23, 1666.26, None,
             1666.41, 1666.44, 1666.46, 1666.48, 1666.50, 1666.53, None,
             1666.74, 1666.77, 1666.79, 1666.81, 1666.83, 1666.86, None,
             1667.08, 1667.11, 1667.13, 1667.14, 1667.16, 1667.19]
z3_ext = [0.0108, 0.0095, 0.0085, 0.0066, 0.0078, 0.0095, 0.0110, None,
          0.0108, 0.0098, 0.0087, 0.0085, 0.0090, 0.0108, None,
          0.0108, 0.0101, 0.0100, 0.0078, 0.0098, 0.0110, None,
          0.0109, 0.0102, 0.0101, 0.0097, 0.0101, 0.0111]


# ---------------- helpers ----------------
def px(x):
    return x / W


def py(y):
    return 1 - y / H


def band_polygon(rows):
    xs, ys, seg = [], [], []
    for r in rows + [None]:
        if r is None:
            if seg:
                xs += [s[0] for s in seg] + [s[0] for s in reversed(seg)] + [None]
                ys += [s[1] for s in seg] + [s[2] for s in reversed(seg)] + [None]
            seg = []
        else:
            seg.append(r)
    return xs, ys


def spike_lines(rows):
    xs, ys = [], []
    for w, t, b in rows:
        xs += [w, w, None]
        ys += [t, b, None]
    return xs, ys


def sampled(start, step, on_grid, half_step):
    xs, ys = [], []
    for i, v in enumerate(on_grid):
        xs.append(round(start + step * i, 5))
        ys.append(v)
        if i < len(half_step):
            xs.append(round(start + step * (i + 0.5), 5))
            ys.append(half_step[i])
    return xs, ys


fig = go.Figure()
S = "\u00a0"

# Panel 1
fig.add_trace(go.Scatter(x=[obs_date] * len(snr_o15), y=snr_o15, mode="markers", cliponaxis=False,
                         marker=dict(color="#1f77b4", size=5, opacity=0.5),
                         name="SNR[Order 15 (#134 1.08<i>μ</i>m)]" + S * 5, xaxis="x", yaxis="y", legend="legend"))
fig.add_trace(go.Scatter(x=[obs_date] * len(snr_o60), y=snr_o60, mode="markers", cliponaxis=False,
                         marker=dict(color="#ff7f0e", size=5, opacity=0.5),
                         name="SNR[Order 60 (#89 1.63<i>μ</i>m)]", xaxis="x", yaxis="y", legend="legend"))

# Panel 2
fig.add_trace(go.Scatter(x=berv_dates, y=berv_vtot, mode="lines",
                         line=dict(color="#7a7a7a", width=2.6, dash="2.6px,4px"),
                         showlegend=False, xaxis="x2", yaxis="y2"))
fig.add_trace(go.Scatter(x=date_range, y=[vsys, vsys], mode="lines", line=dict(color="#1f77b4", width=2),
                         showlegend=False, xaxis="x2", yaxis="y2"))
fig.add_trace(go.Scatter(x=[obs_date], y=passed_vtot, mode="markers", cliponaxis=False,
                         marker=dict(color="green", size=9), showlegend=False, xaxis="x2", yaxis="y2"))

# Panel 2 legend, drawn in a pixel-addressed overlay (x7/y7)
LB = (985.7, 1182.7, 471.7, 541.7)   # left, right, top, bottom (px)
fig.add_trace(go.Scatter(x=[LB[0] + 0.6, LB[1] - 0.6, LB[1] - 0.6, LB[0] + 0.6, LB[0] + 0.6],
                         y=[LB[2] + 0.6, LB[2] + 0.6, LB[3] - 0.6, LB[3] - 0.6, LB[2] + 0.6],
                         fill="toself", fillcolor="rgba(255,255,255,0.85)", mode="lines",
                         line=dict(color="#cccccc", width=1), showlegend=False, xaxis="x7", yaxis="y7"))
leg_y = [479.0, 494.8, 511.0, 528.0]
fig.add_trace(go.Scatter(x=[1001.7], y=[leg_y[0]], mode="markers", marker=dict(color="green", size=8.5, opacity=0.5),
                         showlegend=False, xaxis="x7", yaxis="y7"))
fig.add_trace(go.Scatter(x=[1001.7], y=[leg_y[1]], mode="markers",
                         marker=dict(symbol="x-thin-open", size=12, color="blue", line=dict(color="blue", width=1.5)),
                         showlegend=False, xaxis="x7", yaxis="y7"))
fig.add_trace(go.Scatter(x=[1001.7], y=[leg_y[2]], mode="markers",
                         marker=dict(symbol="x-thin-open", size=12, color="red", line=dict(color="red", width=1.5)),
                         showlegend=False, xaxis="x7", yaxis="y7"))
fig.add_trace(go.Scatter(x=[989.5, 1012.5], y=[leg_y[3], leg_y[3]], mode="lines",
                         line=dict(color="#1f77b4", width=2), showlegend=False, xaxis="x7", yaxis="y7"))

# Panel 3
bx, by = band_polygon(ext_band)
fig.add_trace(go.Scatter(x=bx, y=by, fill="toself", fillcolor="black", mode="lines",
                         line=dict(color="black", width=0.6), showlegend=False, xaxis="x3", yaxis="y3"))
sx, sy = spike_lines(ext_spikes)
fig.add_trace(go.Scatter(x=sx, y=sy, mode="lines", line=dict(color="black", width=1),
                         showlegend=False, xaxis="x3", yaxis="y3"))
rx, ry = band_polygon(tc_band)
fig.add_trace(go.Scatter(x=rx, y=ry, fill="toself", fillcolor="red", mode="lines",
                         line=dict(color="red", width=0.6), showlegend=False, xaxis="x3", yaxis="y3"))
tx, ty = spike_lines(tc_spikes)
fig.add_trace(go.Scatter(x=tx, y=ty, mode="lines", line=dict(color="red", width=1),
                         showlegend=False, xaxis="x3", yaxis="y3"))
fig.add_trace(go.Scatter(x=[None], y=[None], mode="lines", line=dict(color="black", width=1),
                         name="Extracted Spectrum" + S * 5, xaxis="x3", yaxis="y3", legend="legend3"))
fig.add_trace(go.Scatter(x=[None], y=[None], mode="lines", line=dict(color="red", width=1),
                         name="Telluric Corrected", xaxis="x3", yaxis="y3", legend="legend3"))

# Zooms
zooms = [
    (z1_ext_wl, z1_ext, sampled(z1_start, z1_step, z1_tc, z1_tc_half), "x4", "y4"),
    (z2_ext_wl, z2_ext, sampled(z2_start, z2_step, z2_tc, z2_tc_half), "x5", "y5"),
    (z3_ext_wl, z3_ext, sampled(z3_start, z3_step, z3_tc, z3_tc_half), "x6", "y6"),
]
for ewl, ef, (twl, tf), xa, ya in zooms:
    fig.add_trace(go.Scatter(x=ewl, y=ef, mode="lines", line=dict(color="black", width=1),
                             showlegend=False, xaxis=xa, yaxis=ya))
    fig.add_trace(go.Scatter(x=twl, y=tf, mode="lines", line=dict(color="red", width=1),
                             showlegend=False, xaxis=xa, yaxis=ya))


def axis(**kw):
    d = dict(showline=True, linecolor="black", linewidth=1, mirror=True,
             ticks="outside", ticklen=5, tickwidth=1, tickcolor="black",
             showgrid=True, gridcolor=GRID, griddash="4px,2px", gridwidth=1,
             zeroline=False, automargin=False,
             tickfont=dict(family=FONT, size=13.9, color="black"))
    d.update(kw)
    return d


def xaxis(**kw):
    return axis(ticklabelstandoff=-2, **kw)


PX = [px(72.3), px(1188.3)]
fig.update_layout(
    width=W, height=H, margin=dict(l=0, r=0, t=0, b=0),
    template="none", paper_bgcolor="white", plot_bgcolor=BG,
    font=dict(family=FONT, size=13.9, color="black"),
    hovermode=False,
    xaxis=xaxis(domain=PX, anchor="y", type="date", range=date_range, tickvals=date_ticks,
                tickformat="%Y-%m-%d"),
    yaxis=axis(domain=[py(365), py(80.5)], anchor="x", range=[42.75, 50.54], dtick=1, tick0=43),
    xaxis2=xaxis(domain=PX, anchor="y2", type="date", range=date_range, tickvals=date_ticks,
                 tickformat="%Y-%m-%d"),
    yaxis2=axis(domain=[py(750), py(465.3)], anchor="x2", range=[82.42, 134.18], dtick=10, tick0=90),
    xaxis3=xaxis(domain=PX, anchor="y3", range=[985.2, 1810.4], dtick=100, tick0=1000),
    yaxis3=axis(domain=[py(1135), py(850.3)], anchor="x3", range=[0, 0.0325], dtick=0.005,
                tick0=0, tickformat=".3f"),
    xaxis4=xaxis(domain=[px(72.3), px(400.3)], anchor="y4", range=[1082, 1085], dtick=0.5,
                 tick0=1082, tickformat=".1f"),
    yaxis4=axis(domain=[py(1520.7), py(1235)], anchor="x4", range=[0.00802, 0.02724],
                dtick=0.0025, tick0=0.01, tickformat=".4f"),
    xaxis5=xaxis(domain=[px(466.7), px(794.3)], anchor="y5", range=[1575, 1580], dtick=1,
                 tick0=1575, tickformat="d"),
    yaxis5=axis(domain=[py(1520.7), py(1235)], anchor="x5", range=[0.00486, 0.01718],
                dtick=0.002, tick0=0.006, tickformat=".3f"),
    xaxis6=xaxis(domain=[px(860.3), px(1188.3)], anchor="y6", range=[1666, 1668], dtick=0.5,
                 tick0=1666, tickformat=".1f", ticklabeloverflow="allow"),
    yaxis6=axis(domain=[py(1520.7), py(1235)], anchor="x6", range=[0.00519, 0.01843],
                dtick=0.002, tick0=0.006, tickformat=".3f"),
    xaxis7=dict(domain=[px(LB[0]), px(LB[1])], range=[LB[0], LB[1]], anchor="y7", visible=False,
                showgrid=False, zeroline=False, fixedrange=True),
    yaxis7=dict(domain=[py(LB[3]), py(LB[2])], range=[LB[3], LB[2]], anchor="x7", visible=False,
                showgrid=False, zeroline=False, fixedrange=True),
    legend=dict(orientation="h", x=px(1181), xanchor="right", y=py(84), yanchor="top",
                bgcolor="rgba(255,255,255,0.8)", bordercolor="#cccccc", borderwidth=1,
                font=dict(family=FONT, size=13.9, color="black")),
    legend3=dict(orientation="h", x=px(1181), xanchor="right", y=py(853), yanchor="top",
                 bgcolor="rgba(255,255,255,0.8)", bordercolor="#cccccc", borderwidth=1,
                 font=dict(family=FONT, size=13.9, color="black")),
)

ann = []


def text(s, x, y, size=13.9, angle=0, anchor="center"):
    ann.append(dict(text=s, x=px(x), y=py(y), xref="paper", yref="paper", showarrow=False,
                    xanchor=anchor, yanchor="middle", textangle=angle,
                    font=dict(family=FONT, size=size, color="black")))


text("HD138719", 600, 39.8, size=16.7)
text("Date", 630, 399)
text("EXT SNR", 30.7, 222.7, angle=-90)
text("BERV coverage = 10.768 km/s", 630, 452)
for label, yy in zip(berv_legend, leg_y):
    text(label, 1020.7, yy, size=11.1, anchor="left")
text("Date", 630, 782.6)
text("<i>v</i><sub><i>tot</i></sub> [km/s] = <i>v</i><sub><i>sys</i></sub> − <i>BERV</i>", 18.3, 607.6, angle=-90)
text("Spectrum closest to Median SNR[Order 60 (#89 1.63<i>μ</i>m)]" + S * 5 + "SNR:47.01" + S * 5
     + "File: NIRPS_2023-04-20T09_04_01_815.fits", 630, 836.7)
text("Flux", 10, 992.6, angle=-90)
text("Wavelength [nm]", 630, 1169.4)
text("Zoom 1", 236.3, 1221.7)
text("Zoom 2", 630.5, 1221.7)
text("Zoom 3", 1024.3, 1221.7)
text("Wavelength [nm]", 236.3, 1555)
text("Wavelength [nm]", 630.5, 1555)
text("Wavelength [nm]", 1024.3, 1555)
text("Flux", 2, 1378, angle=-90)
fig.update_layout(annotations=ann)

fig.write_html("out.html")
